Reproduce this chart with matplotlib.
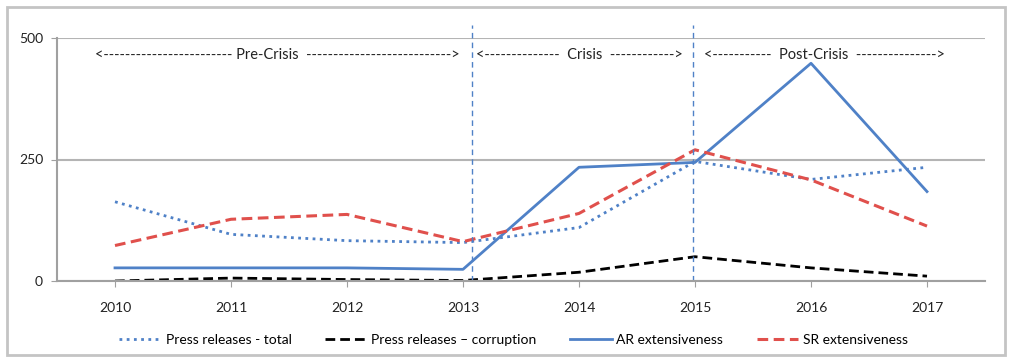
import matplotlib.pyplot as plt
import numpy as np
from matplotlib.patches import Rectangle

plt.rcParams['font.family'] = ['Lato', 'DejaVu Sans']

years = ['2010', '2011', '2012', '2013', '2014', '2015', '2016', '2017']
press_total = [163, 96, 83, 79, 110, 246, 209, 234]
press_corruption = [0, 6, 3, 1, 18, 50, 27, 10]
ar_ext = [27, 27, 27, 24, 234, 244, 448, 184]
sr_ext = [73, 127, 137, 81, 139, 270, 208, 113]

periods = ['<------------------------ Pre-Crisis  --------------------------->',
           '<--------------  Crisis  ------------>',
           '<-----------  Post-Crisis  --------------->']
period_x = [1.40, 4.00, 6.12]
breaks = [3.08, 4.98]

blue = '#4f81c7'
red = '#e0504c'

fig = plt.figure(figsize=(10.11, 3.57), dpi=100)
ax = fig.add_axes([57/1011, 1-281/357, 928/1011, 243/357])

x = np.arange(len(years))
ax.plot(x, press_total, color=blue, lw=2, linestyle=(0, (1, 1.6)), label='Press releases - total')
ax.plot(x, press_corruption, color='black', lw=2, linestyle=(0, (3.5, 1.8)), label='Press releases \u2013 corruption')
ax.plot(x, ar_ext, color=blue, lw=2, label='AR extensiveness')
ax.plot(x, sr_ext, color=red, lw=2.2, linestyle=(0, (3.5, 1.8)), label='SR extensiveness')

# period separators run a little above the plot area
for b in breaks:
    ax.plot([b, b], [0, 527], color=blue, lw=1, linestyle=(0, (4, 3)), clip_on=False)

for t, px in zip(periods, period_x):
    ax.text(px, 465, t, ha='center', va='center', fontsize=10.5, color='#222222')

ax.set_xlim(-0.5, 7.5)
ax.set_ylim(0, 500)
ax.set_xticks(x)
ax.set_xticklabels(years)
ax.set_yticks([0, 250, 500])
ax.yaxis.grid(True, color='#b4b4b4', lw=1.5)
ax.set_axisbelow(True)
for s in ['top', 'right']:
    ax.spines[s].set_visible(False)
ax.spines['left'].set_color('#a0a0a0')
ax.spines['bottom'].set_color('#a0a0a0')
ax.spines['left'].set_linewidth(1.5)
ax.spines['bottom'].set_linewidth(1.5)
ax.tick_params(axis='both', colors='#a0a0a0', labelcolor='#222222', labelsize=10, length=4)
ax.tick_params(axis='x', pad=11)
ax.tick_params(axis='y', pad=6)

leg = fig.legend(loc='center', bbox_to_anchor=(0.508, 1-340/357), ncol=4, frameon=False,
                 fontsize=10, handlelength=3.0, handletextpad=0.35, columnspacing=2.4)

fig.patches.append(Rectangle((7/1011, 1-355/357), 998/1011, 348/357, transform=fig.transFigure,
                             fill=False, edgecolor='#c4c4c4', lw=2))

fig.savefig('out.png', dpi=100)
